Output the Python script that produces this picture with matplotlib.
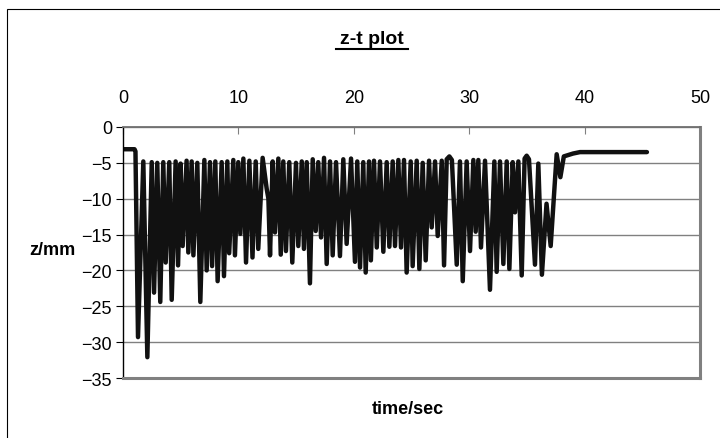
import matplotlib
matplotlib.use("Agg")
import matplotlib.pyplot as plt
from matplotlib.patches import Rectangle

# vertices of the z-t trace (time in s, z in mm)
t_vals = [0.0, 1.0, 1.08, 1.30, 1.76, 2.11, 2.49, 2.69, 2.97, 3.23, 3.49, 3.70, 4.01, 4.22,
          4.56, 4.77, 4.99, 5.17, 5.51, 5.66, 5.95, 6.10, 6.44, 6.70, 7.05, 7.25, 7.54, 7.72,
          8.00, 8.20, 8.55, 8.75, 9.04, 9.20, 9.56, 9.70, 9.99, 10.17, 10.43, 10.66, 10.95,
          11.22, 11.50, 11.72, 12.10, 12.45, 12.60, 12.74, 12.97, 13.17, 13.46, 13.67, 13.89,
          14.12, 14.41, 14.67, 14.99, 15.19, 15.49, 15.68, 15.92, 16.20, 16.44, 16.70, 16.92,
          17.16, 17.42, 17.65, 17.94, 18.17, 18.46, 18.80, 19.09, 19.38, 19.76, 20.10, 20.30,
          20.54, 20.82, 21.03, 21.32, 21.48, 21.75, 21.99, 22.27, 22.56, 22.85, 23.08, 23.37,
          23.57, 23.86, 24.09, 24.35, 24.58, 24.93, 25.10, 25.45, 25.68, 25.97, 26.23, 26.52,
          26.75, 27.04, 27.27, 27.62, 27.82, 28.05, 28.28, 28.50, 28.92, 29.20, 29.44, 29.78,
          30.07, 30.36, 30.56, 30.79, 31.02, 31.37, 31.80, 32.18, 32.38, 32.67, 32.96, 33.25,
          33.48, 33.77, 33.97, 34.26, 34.55, 34.80, 34.98, 35.18, 35.70, 35.99, 36.30, 36.70,
          37.06, 37.58, 37.90, 38.20, 39.00, 39.60, 45.40]
z_vals = [-3.1, -3.1, -3.4, -29.3, -4.8, -32.1, -4.9, -23.1, -5.0, -24.4, -4.9, -18.9, -4.9, -24.1,
          -4.8, -19.3, -5.1, -16.6, -4.7, -17.5, -4.8, -17.9, -5.0, -24.4, -4.6, -20.0, -4.9, -19.4,
          -4.8, -21.5, -4.9, -20.8, -4.8, -17.6, -4.6, -17.9, -4.9, -14.9, -4.4, -18.9, -4.7,
          -18.2, -4.8, -17.0, -4.3, -8.6, -10.0, -17.9, -4.8, -14.7, -4.4, -17.8, -4.8,
          -17.3, -4.9, -18.9, -5.0, -16.6, -4.8, -17.0, -4.9, -21.8, -4.5, -14.5, -4.9,
          -15.4, -4.3, -19.1, -4.8, -17.9, -4.9, -18.0, -4.5, -16.3, -4.4, -18.8, -4.8,
          -19.6, -4.9, -20.3, -4.8, -18.6, -4.7, -16.8, -4.8, -17.4, -4.9, -16.7, -4.8,
          -16.6, -4.6, -16.8, -4.6, -20.3, -4.8, -19.4, -4.7, -19.8, -5.0, -18.6, -4.7,
          -14.0, -4.8, -15.2, -4.7, -19.3, -4.5, -4.1, -4.6, -19.2, -4.8, -21.5, -4.8,
          -17.3, -4.6, -14.6, -4.6, -16.8, -4.7, -22.7, -4.8, -20.2, -4.8, -19.1, -4.8,
          -19.8, -4.9, -11.9, -4.8, -20.7, -4.4, -4.0, -4.5, -19.2, -5.1, -20.6, -10.7,
          -16.6, -3.8, -7.0, -4.1, -3.7, -3.5, -3.5]

x_ticks = [0, 10, 20, 30, 40, 50]
y_ticks = [0, -5, -10, -15, -20, -25, -30, -35]

FONT = ["Liberation Sans Narrow", "Liberation Sans", "DejaVu Sans"]
plt.rcParams["font.family"] = FONT

W, H = 720, 439
fig = plt.figure(figsize=(W / 100, H / 100), dpi=100)
fig.patch.set_facecolor("white")

# outer chart frame
fig.patches.append(Rectangle((7 / W, -0.2), 1.5, 1.2 - 10 / H, transform=fig.transFigure,
                             fill=False, edgecolor="black", linewidth=0.8))

ax = fig.add_axes([123 / W, 1 - 379 / H, (700 - 123) / W, (379 - 128) / H])
ax.plot(t_vals, z_vals, color="#111111", linewidth=3.2, solid_joinstyle="round",
        solid_capstyle="round")

ax.set_xlim(0, 50)
ax.set_ylim(-35, 0)
ax.set_xticks(x_ticks)
ax.set_yticks(y_ticks)
ax.xaxis.tick_top()
ax.tick_params(axis="x", direction="in", length=5, pad=15, labelsize=13, color="#808080")
ax.tick_params(axis="y", direction="out", length=5, pad=3, labelsize=13, color="black")
ax.yaxis.grid(True, color="#808080", linewidth=1.0)
ax.set_axisbelow(True)

ax.spines["top"].set_color("#707070")
ax.spines["top"].set_linewidth(1.3)
for s in ["right", "bottom"]:
    ax.spines[s].set_color("#808080")
    ax.spines[s].set_linewidth(2.2)
ax.spines["left"].set_color("black")
ax.spines["left"].set_linewidth(1.0)

fig.text(372 / W, 1 - 40 / H, "z-t plot", ha="center", va="center", fontsize=14,
         fontweight="bold")
# underline for title
fig.add_artist(plt.Line2D([336 / W, 408 / W], [1 - 50 / H, 1 - 50 / H], color="black",
                          linewidth=1.5, transform=fig.transFigure))
fig.text(52 / W, 1 - 251 / H, "z/mm", ha="center", va="center", fontsize=13,
         fontweight="bold")
fig.text(408 / W, 1 - 410 / H, "time/sec", ha="center", va="center", fontsize=13,
         fontweight="bold")

fig.savefig("out.png", dpi=100)
